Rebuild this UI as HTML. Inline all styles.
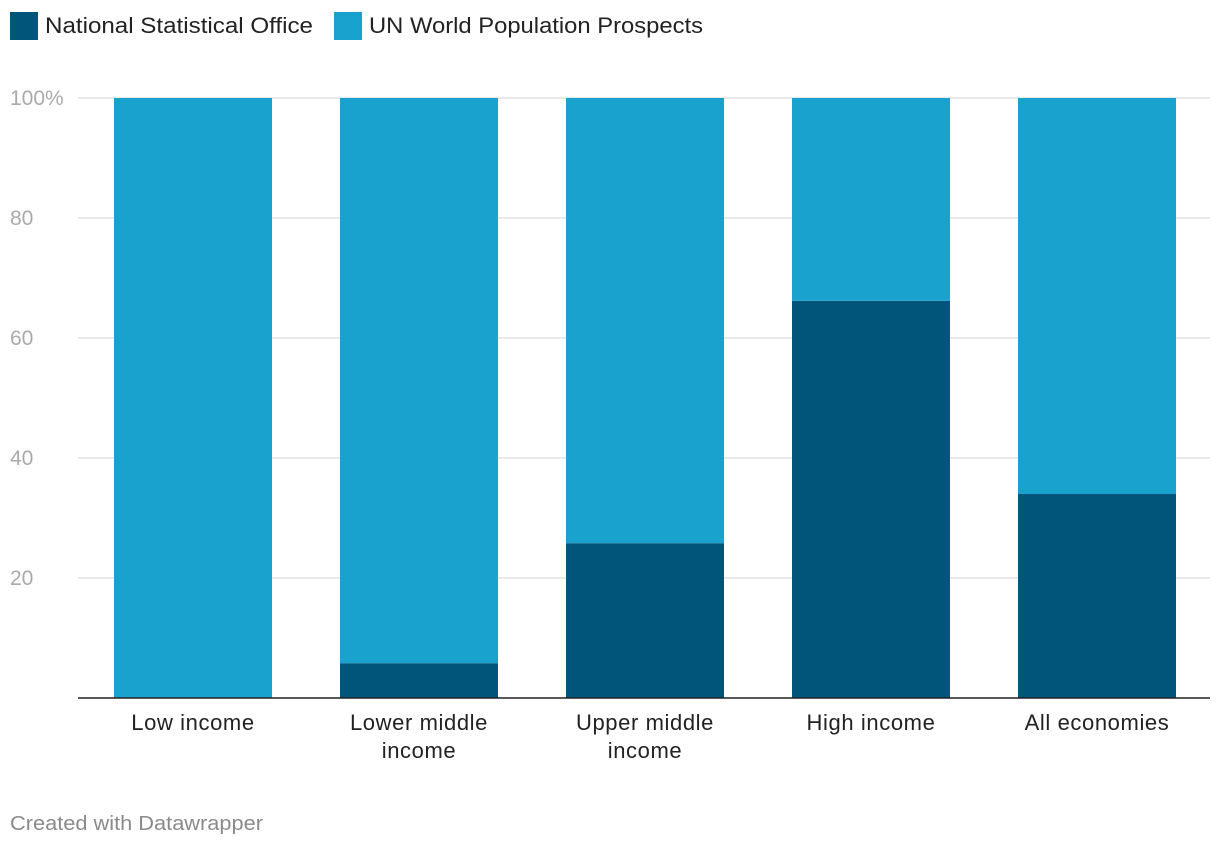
<!DOCTYPE html>
<html><head><meta charset="utf-8"><style>
body{margin:0;background:#fff;font-family:"Liberation Sans",sans-serif;}
svg{display:block}
</style></head><body>
<svg width="1220" height="848">
<g>
<rect x="10" y="12" width="28" height="28" fill="#01547a"/>
<text x="45" y="33" font-size="22" textLength="268" lengthAdjust="spacingAndGlyphs" fill="#222">National Statistical Office</text>
<rect x="334" y="12" width="28" height="28" fill="#1aa2ce"/>
<text x="369" y="33" font-size="22" textLength="334" lengthAdjust="spacingAndGlyphs" fill="#222">UN World Population Prospects</text>
</g>
<g id="grid"></g><g id="bars"></g><g id="xl"></g>
<line x1="78" x2="1210" y1="698" y2="698" stroke="#222" stroke-width="1.5"/>
<text x="10" y="830" font-size="20" textLength="253" lengthAdjust="spacingAndGlyphs" fill="#8a8a8a">Created with Datawrapper</text>
</svg>
<script>
const categories=[["Low income"],["Lower middle","income"],["Upper middle","income"],["High income"],["All economies"]];
const nsoValues=[0,5.8,25.8,66.2,34];
const unValues=[100,94.2,74.2,33.8,66];
const ticks=[20,40,60,80,100];
const tickLabels=["20","40","60","80","100%"];
const NS="http://www.w3.org/2000/svg";
const y=v=>698-v*6;
const x=i=>114+i*226;
const bw=158;
function mk(t,a,p){const e=document.createElementNS(NS,t);for(const k in a)e.setAttribute(k,a[k]);p.appendChild(e);return e;}
const g=document.getElementById('grid');
ticks.forEach((t,i)=>{
 const l=mk('line',{x1:78,x2:1210,y1:y(t),y2:y(t),stroke:'#e2e2e2','stroke-width':1.5},g);
 
 
 const tx=mk('text',{x:10,y:y(t)+7,'font-size':21,fill:'#aaa'},g);tx.textContent=tickLabels[i];
 
 
});
const b=document.getElementById('bars'),xl=document.getElementById('xl');
categories.forEach((c,i)=>{
 const r1=mk('rect',{x:x(i),y:y(nsoValues[i]),width:bw,height:nsoValues[i]*6,fill:'#01547a'},b);
 
 
 const r2=mk('rect',{x:x(i),y:y(nsoValues[i]+unValues[i]),width:bw,height:unValues[i]*6,fill:'#1aa2ce'},b);
 
 
 c.forEach((line,j)=>{
  const t=mk('text',{x:x(i)+bw/2,y:730+j*28,'font-size':22,fill:'#222','text-anchor':'middle','letter-spacing':'0.6'},xl);t.textContent=line;
  
  
 });
});
</script>
</body></html>
